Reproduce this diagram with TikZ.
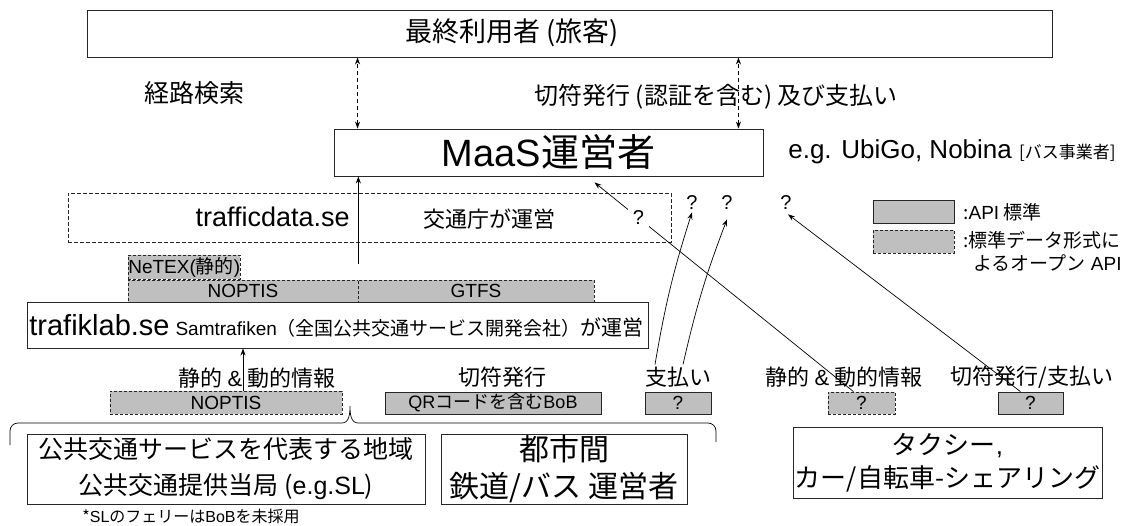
\documentclass[tikz,border=0pt]{standalone}
\usepackage{fontspec}
\setmainfont{Noto Sans CJK JP}
\newfontfamily\latfont{Liberation Sans}
\newcommand\lat[1]{{\latfont #1}}
\usetikzlibrary{arrows.meta}

\begin{document}
\begin{tikzpicture}[x=1pt,y=-1pt,>={Stealth[length=7pt,width=5pt]},line width=0.7pt,
		every node/.style={inner sep=0pt},
		box/.style={draw=black!85,fill=white,line width=0.9pt},
		dbox/.style={draw=black!85,dash pattern=on 4pt off 2pt},
		api/.style={draw=black!85,fill=gray!50},
		openapi/.style={api,dash pattern=on 3pt off 2pt},
		link/.style={<->,dash pattern=on 4pt off 3pt}]

	\useasboundingbox (0,0) rectangle (1130,525);

	% end user and MaaS operator
	\node [box,minimum width=965,minimum height=47] (user) at (569.5,33.5) {};
	\node [font=\fontsize{27pt}{27pt}\selectfont] (user-lbl) at (512,33) {最終利用者 (旅客)};
	\node [box,minimum width=429,minimum height=47,font=\fontsize{38pt}{38pt}\selectfont] (maas) at (548.5,152.5) {\lat{MaaS}運営者};
	\node [anchor=west,font=\fontsize{26pt}{26pt}\selectfont] (maas-eg) at (788,152) {\lat{e.g. UbiGo, Nobina }{\fontsize{17pt}{17pt}\selectfont[バス事業者]}};
	\node [font=\fontsize{25pt}{25pt}\selectfont] (route-lbl) at (194,93) {経路検索};
	\node [font=\fontsize{24pt}{24pt}\selectfont] (ticket-lbl) at (716,97) {切符発行 (認証を含む) 及び支払い};
	\draw [link] ([xshift=24pt]maas.north west) -- ([xshift=24pt]maas.north west |- user.south);
	\draw [link] ([xshift=-25pt]maas.north east) -- ([xshift=-25pt]maas.north east |- user.south);

	% data platforms
	\node [dbox,minimum width=603,minimum height=49] (traffic) at (369.5,217.5) {};
	\node [anchor=east,font=\fontsize{27pt}{27pt}\selectfont] (traffic-lbl) at (350,217) {\lat{trafficdata.se}};
	\node [font=\fontsize{22pt}{22pt}\selectfont] (traffic-op) at (489,219) {交通庁が運営};
	\node [openapi,anchor=west,minimum height=24,font=\fontsize{19pt}{19pt}\selectfont] (netex) at (128,267) {\lat{NeTEX(}静的\lat{)}\hspace{3pt}};
	\node [openapi,minimum width=230,minimum height=22,font=\fontsize{19pt}{19pt}\selectfont] (noptis-a) at (243,291) {\lat{NOPTIS}};
	\node [openapi,minimum width=236,minimum height=22,font=\fontsize{19pt}{19pt}\selectfont] (gtfs) at (476,291) {\lat{GTFS}};
	\node [box,minimum width=621,minimum height=46] (trafiklab) at (337.5,325) {};
	\node [anchor=base west,font=\fontsize{29pt}{29pt}\selectfont] (trafiklab-lbl) at (29,335) {\lat{trafiklab.se}};
	\node [anchor=base west,font=\fontsize{19pt}{19pt}\selectfont] (trafiklab-op) at (trafiklab-lbl.base east) {\lat{ Samtrafiken}（全国公共交通サービス開発会社）{\fontsize{21pt}{21pt}\selectfont が運営}};
	\draw [->] ([yshift=16pt]noptis-a.north east) -- (noptis-a.north east |- maas.south);

	% interfaces of the providers
	\node [font=\fontsize{22pt}{22pt}\selectfont] (dyn-lbl) at (257,378) {静的 \lat{\&} 動的情報};
	\node [openapi,minimum width=232,minimum height=23,font=\fontsize{19pt}{19pt}\selectfont] (noptis-b) at (226,402.5) {\lat{NOPTIS}};
	\draw [->] ([xshift=17pt]noptis-b.north) -- ([xshift=17pt]noptis-b.north |- trafiklab.south);
	\node [font=\fontsize{22pt}{22pt}\selectfont] (bob-lbl) at (502,377) {切符発行};
	\node [api,minimum width=216,minimum height=22,font=\fontsize{18pt}{18pt}\selectfont] (bob) at (493,403) {\lat{QR}コードを含む\lat{BoB}};
	\node [font=\fontsize{22pt}{22pt}\selectfont] (pay-lbl) at (678,377) {支払い};
	\node [api,minimum width=66,minimum height=22,font=\fontsize{19pt}{19pt}\selectfont] (pay) at (678,403) {\lat{?}};
	\node [font=\fontsize{22pt}{22pt}\selectfont] (taxi-dyn-lbl) at (844,377) {静的 \lat{\&} 動的情報};
	\node [openapi,minimum width=67,minimum height=22,font=\fontsize{19pt}{19pt}\selectfont] (taxi-dyn) at (861.5,403) {\lat{?}};
	\node [font=\fontsize{22pt}{22pt}\selectfont] (taxi-pay-lbl) at (1032,377) {切符発行/支払い};
	\node [api,minimum width=65,minimum height=22,font=\fontsize{19pt}{19pt}\selectfont] (taxi-pay) at (1030.5,403) {\lat{?}};

	% operators
	\draw (10,445) -- (10,431) to[out=90,in=180] (18,423) -- (342,423) to[out=0,in=-90] (350,406)
		to[out=-90,in=180] (358,423) -- (708,423) to[out=0,in=90] (716,431) -- (716,442);
	\node [box,minimum width=398,minimum height=70,align=center,font=\fontsize{25pt}{36pt}\selectfont] (regional) at (226,469) {公共交通サービスを代表する地域\\公共交通提供当局 (\lat{e.g.SL})};
	\node [box,minimum width=246,minimum height=70,align=center,font=\fontsize{30pt}{37pt}\selectfont] (intercity) at (564,469) {都市間\\鉄道/バス 運営者};
	\node [box,minimum width=309,minimum height=71,align=center,font=\fontsize{26pt}{33pt}\selectfont] (sharing) at (947.5,462.5) {タクシー\lat{,}\\カー/自転車-シェアリング};
	\node [font=\fontsize{16pt}{16pt}\selectfont] (note) at (191,516) {*\lat{SL}のフェリーは\lat{BoB}を未採用};

	% legend
	\node [api,minimum width=81,minimum height=23] (key-api) at (913.5,211.5) {};
	\node [openapi,minimum width=81,minimum height=23] (key-open) at (913.5,241.5) {};
	\node [anchor=west,font=\fontsize{19pt}{19pt}\selectfont] (key-api-lbl) at (963,212) {:\lat{API} 標準};
	\node [anchor=north west,align=left,font=\fontsize{19pt}{23pt}\selectfont] (key-open-lbl) at (963,231) {:標準データ形式に\\\hspace{10pt}よるオープン\lat{ API}};

	% open questions towards the MaaS operator
	\node [font=\fontsize{20pt}{20pt}\selectfont] (q-pay) at (692,203) {\lat{?}};
	\node [font=\fontsize{20pt}{20pt}\selectfont] (q-pay2) at (727,203) {\lat{?}};
	\node [font=\fontsize{20pt}{20pt}\selectfont] (q-taxi) at (786,203) {\lat{?}};
	\draw [->] ([xshift=-23pt,yshift=2pt]pay-lbl.north) to[bend left=4] ([yshift=-2pt]q-pay.south);
	\draw [->] ([xshift=5pt,yshift=2pt]pay-lbl.north) to[bend left=4] ([yshift=-9pt]q-pay2.south);
	\draw [->] ([xshift=-8pt]taxi-dyn.north) -- node [pos=.83,fill=white,inner sep=5pt,font=\fontsize{20pt}{20pt}\selectfont] (q-traffic) {\lat{?}} ([xshift=46pt,yshift=-6pt]maas.south);
	\draw [->] ([xshift=-10pt]taxi-pay.north) -- ([xshift=2pt,yshift=-4pt]q-taxi.south);
\end{tikzpicture}
\end{document}
